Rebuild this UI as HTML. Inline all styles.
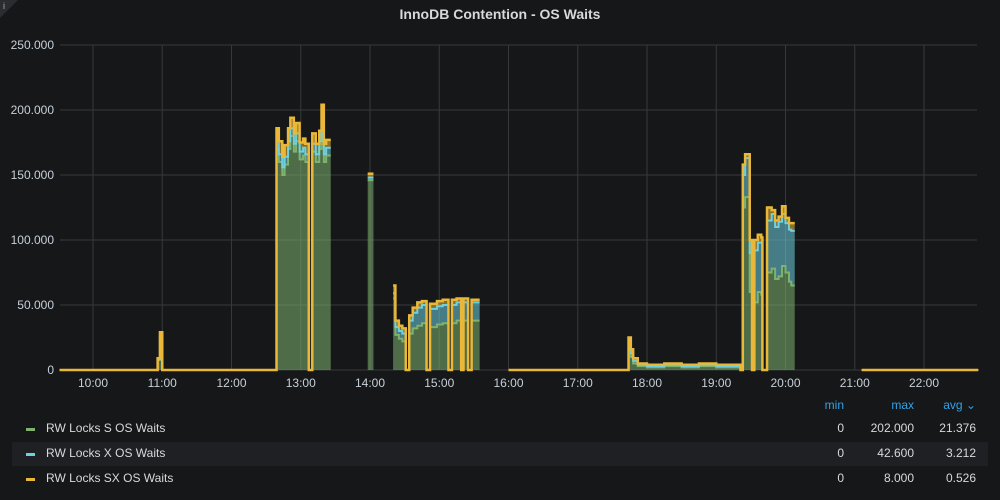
<!DOCTYPE html>
<html><head><meta charset="utf-8"><style>
body{margin:0;width:1000px;height:500px;background:#161719;overflow:hidden;font-family:"Liberation Sans",sans-serif;}
#wrap{position:relative;width:1000px;height:500px;}
.t{position:absolute;color:#d8d9da;}
</style></head><body><div id="wrap">
<div style="position:absolute;left:0;top:0;width:0;height:0;border-top:18px solid #2a2c30;border-right:18px solid transparent;"></div>
<div class="t" style="left:3px;top:1px;font-size:9px;color:#aaa;">i</div>
<div class="t" style="left:0;width:1000px;text-align:center;top:6px;font-size:14px;font-weight:bold;color:#d8d9da;">InnoDB Contention - OS Waits</div>
<svg id="chart" width="1000" height="400" style="position:absolute;left:0;top:0"></svg>
<div style="position:absolute;left:0;top:0;width:1000px;">
<div class="t" style="left:800px;width:44px;text-align:right;top:398px;font-size:12px;color:#33a2e5;">min</div>
<div class="t" style="left:850px;width:64px;text-align:right;top:398px;font-size:12px;color:#33a2e5;">max</div>
<div class="t" style="left:920px;width:56px;text-align:right;top:398px;font-size:12px;color:#33a2e5;">avg ⌄</div>
<div style="position:absolute;left:12px;top:442px;width:976px;height:24px;background:#1e2024;"></div>
<div id="rows"></div>
</div>
</div>
<script>
const times=["09:31","10:56","10:58","11:00","12:39","12:41","12:44","12:46","12:49","12:51","12:54","12:56","12:59","13:02","13:04","13:07","13:10","13:13","13:16","13:18","13:20","13:22","13:26","13:58","14:03","14:20","14:22","14:25","14:28","14:31","14:34","14:37","14:41","14:45","14:49","14:52","14:58","15:03","15:08","15:11","15:15","15:19","15:21","15:25","15:28","15:35","16:00","17:44","17:46","17:48","17:52","18:00","18:15","18:30","18:45","19:00","19:15","19:21","19:23","19:25","19:29","19:31","19:33","19:36","19:39","19:40","19:44","19:48","19:51","19:54","19:57","20:00","20:03","20:05","20:08","21:06","22:47"];
const sVals=[0,8,22,0,170,160,150,158,170,180,168,176,162,165,160,0,168,160,170,190,160,165,null,146,null,55,27,24,22,0,28,32,34,36,0,33,35,36,0,36,38,0,38,0,38,null,0,15,10,5,3,2,3,2,3,2,2,0,125,133,60,0,52,60,58,0,75,78,70,72,80,75,68,65,null,0,null];
const xVals=[0,0,3,0,6,6,6,6,6,6,6,6,6,6,6,0,6,6,6,6,6,6,null,2,null,4,6,6,6,0,10,12,14,14,0,14,14,14,0,14,14,0,14,0,14,null,0,5,3,2,1,1,1,1,1,1,1,0,25,30,30,0,40,38,40,0,40,42,40,42,40,38,40,42,null,0,null];
const sxVals=[0,1,4,0,10,10,8,9,10,8,8,8,7,7,8,0,8,8,8,8,8,6,null,3,null,6,5,4,4,0,4,4,4,3,0,4,4,4,0,4,3,0,3,0,2,null,0,5,3,2,1,1,1,1,1,1,1,0,8,3,10,0,8,6,4,0,10,3,5,4,6,4,5,6,null,0,null];
const yTicks=[0,50,100,150,200,250];
const yTickLabels=["0","50.000","100.000","150.000","200.000","250.000"];
const xTicks=["10:00","11:00","12:00","13:00","14:00","15:00","16:00","17:00","18:00","19:00","20:00","21:00","22:00"];
const legendNames=["RW Locks S OS Waits","RW Locks X OS Waits","RW Locks SX OS Waits"];
const legendMin=["0","0","0"];
const legendMax=["202.000","42.600","8.000"];
const legendAvg=["21.376","3.212","0.526"];
const colors=["#7eb26d","#6ed0e0","#eab839"];

const L=60,R=977,T=45,B=370;
const tm=s=>{const p=s.split(":");return +p[0]*60+ +p[1];};
const X=s=>93+(tm(s)-600)*(69.25/60);
const Y=v=>B-(v/250)*(B-T);
const svg=document.getElementById('chart');
const NS="http://www.w3.org/2000/svg";
function mk(tag,attrs){const e=document.createElementNS(NS,tag);for(const k in attrs)e.setAttribute(k,attrs[k]);svg.appendChild(e);return e;}
yTicks.forEach((v,i)=>{
 const g=mk('line',{x1:L,x2:R,y1:Y(v),y2:Y(v),stroke:'#36383c','stroke-width':1});
 
 
 const t=mk('text',{x:54,y:Y(v)+4,'text-anchor':'end',fill:'#c7d0d9','font-size':12,'font-family':'Liberation Sans, sans-serif'});
 t.textContent=yTickLabels[i];
 
 
});
xTicks.forEach(s=>{
 const g=mk('line',{x1:X(s),x2:X(s),y1:T,y2:B,stroke:'#36383c','stroke-width':1});
 
 
 const t=mk('text',{x:X(s),y:387,'text-anchor':'middle',fill:'#c7d0d9','font-size':12,'font-family':'Liberation Sans, sans-serif'});
 t.textContent=s;
 
 
});
const series=[sVals,xVals,sxVals];
const cum=[];
for(let k=0;k<3;k++){cum.push(times.map((_,i)=>sVals[i]===null?null:series.slice(0,k+1).reduce((a,s)=>a+s[i],0)));}
function segments(){const segs=[];let cur=null;for(let i=0;i<times.length-1;i++){if(sVals[i]===null){cur=null;continue;}if(!cur){cur=[];segs.push(cur);}cur.push(i);}return segs;}
const segs=segments();
const names=['s','x','sx'];
for(let k=0;k<3;k++){
 segs.forEach(sg=>{
  let top='',bot=[];
  sg.forEach((i,j)=>{const x0=X(times[i]),x1=X(times[i+1]);top+=(j?'L':'M')+x0+','+Y(cum[k][i])+'L'+x1+','+Y(cum[k][i]);
   const b=k?cum[k-1][i]:0;bot.unshift('L'+x1+','+Y(b)+'L'+x0+','+Y(b));});
  const a=mk('path',{d:top+bot.join('')+'Z',fill:colors[k],'fill-opacity':0.55,stroke:'none'});
  
  
 });
}
for(let k=0;k<3;k++){
 segs.forEach(sg=>{
  let d='';
  sg.forEach((i,j)=>{const x0=X(times[i]),x1=X(times[i+1]);d+=(j?'L':'M')+x0+','+Y(cum[k][i])+'L'+x1+','+Y(cum[k][i]);});
  const p=mk('path',{d:d,fill:'none',stroke:colors[k],'stroke-width':k==2?2.5:2});
  
  
 });
}
const rows=document.getElementById('rows');
legendNames.forEach((n,i)=>{
 const y=421+i*25;
 const r=document.createElement('div');
 
 
 r.innerHTML=`<div style="position:absolute;left:26px;top:${y+7}px;width:9px;height:3px;background:${colors[i]}"></div>
<div class="t" style="left:46px;top:${y}px;font-size:12px;">${n}</div>
<div class="t" style="left:800px;width:44px;text-align:right;top:${y}px;font-size:12px;">${legendMin[i]}</div>
<div class="t" style="left:850px;width:64px;text-align:right;top:${y}px;font-size:12px;">${legendMax[i]}</div>
<div class="t" style="left:920px;width:56px;text-align:right;top:${y}px;font-size:12px;">${legendAvg[i]}</div>`;
 rows.appendChild(r);
});
</script></body></html>
